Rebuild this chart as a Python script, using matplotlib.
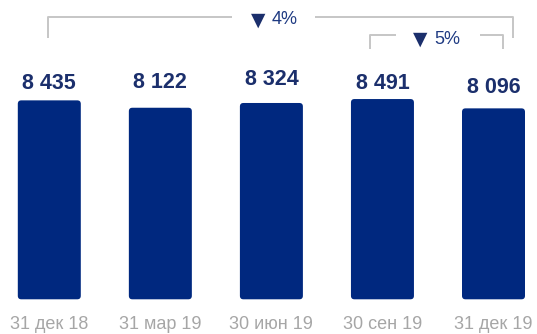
import matplotlib
matplotlib.use("Agg")
import matplotlib.pyplot as plt
from matplotlib.patches import FancyBboxPatch

categories = ["31 дек 18", "31 мар 19", "30 июн 19", "30 сен 19", "31 дек 19"]
values = [8435, 8122, 8324, 8491, 8096]
value_labels = ["8 435", "8 122", "8 324", "8 491", "8 096"]
change_total = "4%"
change_last = "5%"
arrow = "▼"

BAR = "#00287F"
NAVY = "#1B2F6C"
PCT = "#1E3A82"
GRAY_TXT = "#A6A6A6"
GRAY_LN = "#C6C6C6"
FONT = ["Liberation Sans", "DejaVu Sans"]

W, H, DPI = 537, 334, 100
fig = plt.figure(figsize=(W / DPI, H / DPI), dpi=DPI)
ax = fig.add_axes([0, 0, 1, 1])

x0_px, step_px = 49.3, 111.05
base_px = 299.3
upp = 42.4
xupp = 1 / step_px

ax.set_xlim(-x0_px / step_px, (W - x0_px) / step_px)
ax.set_ylim(-(H - base_px) * upp, base_px * upp)
ax.axis("off")

def px_to_x(p):
    return (p - x0_px) / step_px

def py_to_y(p):
    return (base_px - p) * upp

xs = list(range(len(values)))
bars = ax.bar(xs, values, width=63 / step_px, color=BAR)
r_px = 3.5
asp = upp / xupp
for b in bars:
    b.set_visible(False)
    p = FancyBboxPatch((b.get_x(), b.get_y()), b.get_width(), b.get_height(),
                       boxstyle=f"round,pad=0,rounding_size={r_px * xupp}",
                       mutation_aspect=asp, fc=BAR, ec="none")
    ax.add_patch(p)

label_dy = [17, 25, 23.5, 15.5, 20.5]
for x, v, lab, dy in zip(xs, values, value_labels, label_dy):
    ax.text(x, v + dy * upp, lab, ha="center", va="center", fontsize=15.5,
            fontweight="bold", color=NAVY, family=FONT)

for x, c in zip(xs, categories):
    ax.text(x, py_to_y(324.5), c, ha="center", va="center", fontsize=13,
            color=GRAY_TXT, family=FONT)

def bracket(l, r, ytop, ybot, gl, gr, txt, ty, ax_px, tx_px):
    kw = dict(color=GRAY_LN, lw=1.4, solid_capstyle="butt")
    ax.plot([px_to_x(l), px_to_x(l), px_to_x(gl)],
            [py_to_y(ybot), py_to_y(ytop), py_to_y(ytop)], **kw)
    ax.plot([px_to_x(gr), px_to_x(r), px_to_x(r)],
            [py_to_y(ytop), py_to_y(ytop), py_to_y(ybot)], **kw)
    ax.text(px_to_x(ax_px), py_to_y(ty), arrow, ha="center", va="center",
            fontsize=13.5, color=NAVY, family="DejaVu Sans")
    ax.text(px_to_x(tx_px), py_to_y(ty), txt, ha="center", va="center",
            fontsize=13, color=PCT, family=FONT)

bracket(47.5, 513, 16.5, 38, 232, 315, change_total, 20, 258, 285)
bracket(370, 502.6, 35, 48.5, 396, 480, change_last, 39, 420, 447.5)

fig.savefig("out.png", dpi=DPI)
